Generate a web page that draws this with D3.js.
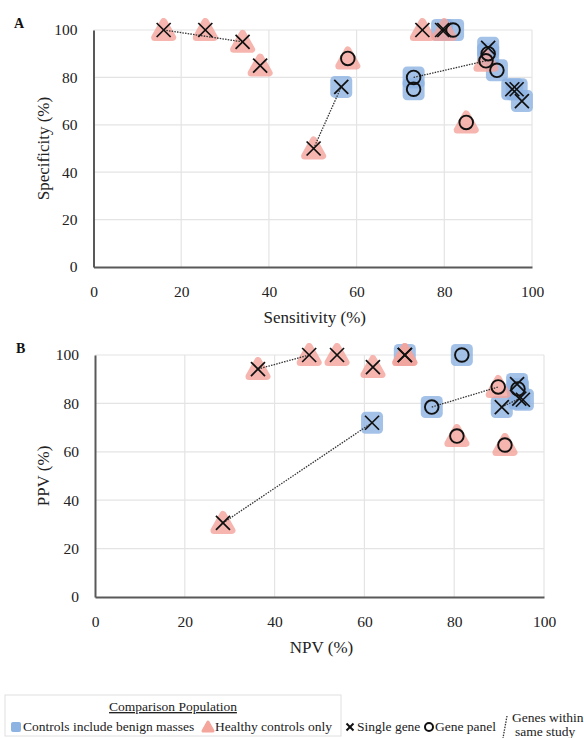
<!DOCTYPE html>
<html>
<head>
<meta charset="utf-8">
<script src="https://cdn.jsdelivr.net/npm/d3@7"></script>
<style>
  body { margin: 0; background: #fff; }
  svg { font-family: "Liberation Serif", "DejaVu Serif", serif; }
</style>
</head>
<body>
<script>
// ticks shared by both panels
const ticks = [0, 20, 40, 60, 80, 100];

// Panel A: [sensitivity, specificity]
const aHealthySingle = [[16, 100], [25.5, 100], [34, 95], [38, 85], [50.2, 50], [75, 100], [80, 100]];
const aBenignSingle = [[56.5, 76], [79.5, 100], [90, 92.5], [95.5, 75], [96.5, 75], [97.7, 70]];
const aHealthyPanel = [[58, 88], [89.5, 87], [85, 61]];
const aBenignPanel = [[82, 100], [73, 80], [73, 75], [90, 90], [92, 83]];
const aLinks = [
  [[16, 100], [34, 95]],
  [[50.2, 50], [56.5, 76]],
  [[73, 80], [89.5, 87]]
];

// Panel B: [NPV, PPV]
const bHealthySingle = [[36.3, 94.2], [28.5, 30.6], [47.7, 100], [53.9, 100], [61.9, 95], [69, 100], [69, 100]];
const bBenignSingle = [[61.7, 72], [69, 100], [90.6, 78.5], [94, 88], [94.5, 82], [95.3, 81.5]];
const bHealthyPanel = [[89.8, 86.8], [80.6, 66.5], [91.3, 62.8]];
const bBenignPanel = [[81.7, 100], [75, 78.5], [94.2, 86]];
const bLinks = [
  [[36.3, 94.2], [47.7, 100]],
  [[28.5, 30.6], [61.7, 72]],
  [[75, 78.5], [89.8, 86.8]],
  [[90.6, 78.5], [94.5, 82]]
];

const width = 584, height = 738;
const blue = '#8db3e2', pink = '#f4a59c';

const svg = d3.select('body').append('svg')
  .attr('width', width)
  .attr('height', height);

function drawPanel(p) {
  const x = d3.scaleLinear().domain([0, 100]).range([p.left, p.right]);
  const y = d3.scaleLinear().domain([0, 100]).range([p.bottom, p.top]);
  const g = svg.append('g');

  // grid
  g.selectAll('.vg').data(ticks.slice(1)).enter().append('line')
    .attr('x1', d => x(d)).attr('x2', d => x(d))
    .attr('y1', p.top).attr('y2', p.bottom)
    .attr('stroke', '#e4e4e4').attr('stroke-width', 1.2);
  g.selectAll('.hg').data(ticks.slice(1)).enter().append('line')
    .attr('x1', p.left).attr('x2', p.right)
    .attr('y1', d => y(d)).attr('y2', d => y(d))
    .attr('stroke', '#e4e4e4').attr('stroke-width', 1.2);

  // axes
  const xa = g.append('g').attr('transform', `translate(0,${p.bottom})`)
    .call(d3.axisBottom(x).tickValues(ticks).tickSize(0).tickPadding(19));
  const ya = g.append('g').attr('transform', `translate(${p.left},0)`)
    .call(d3.axisLeft(y).tickValues(ticks).tickSize(0).tickPadding(16));
  [xa, ya].forEach(a => {
    a.select('.domain').attr('stroke', '#595959').attr('stroke-width', 2);
    a.selectAll('text').attr('font-size', 15.5).attr('fill', '#222')
      .attr('font-family', '"Liberation Serif", serif');
  });

  // titles
  g.append('text').attr('x', (p.left + p.right) / 2 + 2).attr('y', p.xTitleY)
    .attr('text-anchor', 'middle').attr('font-size', 17).attr('fill', '#222')
    .text(p.xTitle);
  g.append('text')
    .attr('transform', `translate(43,${(p.top + p.bottom) / 2}) rotate(-90)`)
    .attr('text-anchor', 'middle').attr('dy', '0.35em')
    .attr('font-size', 17).attr('fill', '#222').text(p.yTitle);
  g.append('text').attr('x', p.letterX).attr('y', p.top - 2)
    .attr('font-size', 14).attr('font-weight', 'bold').attr('fill', '#111')
    .text(p.letter);

  // backgrounds
  const benign = p.benignSingle.concat(p.benignPanel);
  const healthy = p.healthySingle.concat(p.healthyPanel);
  g.selectAll('.bsq').data(benign).enter().append('rect')
    .attr('x', d => x(d[0]) - 11).attr('y', d => y(d[1]) - 11)
    .attr('width', 22).attr('height', 22).attr('rx', 4.5)
    .attr('fill', blue).attr('opacity', 0.8);
  g.selectAll('.htri').data(healthy).enter().append('path')
    .attr('transform', d => `translate(${x(d[0])},${y(d[1])})`)
    .attr('d', 'M0,-8.5 L9,7.5 L-9,7.5 Z')
    .attr('fill', pink).attr('stroke', pink)
    .attr('stroke-width', 7).attr('stroke-linejoin', 'round')
    .attr('opacity', 0.8);

  // study links
  const line = d3.line().x(d => x(d[0])).y(d => y(d[1]));
  g.selectAll('.link').data(p.links).enter().append('path')
    .attr('d', line).attr('fill', 'none')
    .attr('stroke', '#333').attr('stroke-width', 1.3)
    .attr('stroke-dasharray', '1.5,1.2');

  // glyphs
  const singles = p.benignSingle.concat(p.healthySingle);
  const panels = p.benignPanel.concat(p.healthyPanel);
  const xs = g.selectAll('.xg').data(singles).enter().append('g')
    .attr('transform', d => `translate(${x(d[0])},${y(d[1])})`);
  xs.append('line').attr('x1', -7).attr('y1', -7).attr('x2', 7).attr('y2', 7);
  xs.append('line').attr('x1', -7).attr('y1', 7).attr('x2', 7).attr('y2', -7);
  xs.selectAll('line').attr('stroke', '#111').attr('stroke-width', 1.7);
  g.selectAll('.og').data(panels).enter().append('circle')
    .attr('cx', d => x(d[0])).attr('cy', d => y(d[1])).attr('r', 6.8)
    .attr('fill', 'none').attr('stroke', '#111').attr('stroke-width', 1.9);
}

drawPanel({
  left: 93.5, right: 532, top: 30, bottom: 267,
  xTitle: 'Sensitivity (%)', yTitle: 'Specificity (%)', xTitleY: 323,
  letter: 'A', letterX: 14,
  healthySingle: aHealthySingle, benignSingle: aBenignSingle,
  healthyPanel: aHealthyPanel, benignPanel: aBenignPanel, links: aLinks
});

drawPanel({
  left: 95, right: 544, top: 355, bottom: 597,
  xTitle: 'NPV (%)', yTitle: 'PPV (%)', xTitleY: 653,
  letter: 'B', letterX: 16,
  healthySingle: bHealthySingle, benignSingle: bBenignSingle,
  healthyPanel: bHealthyPanel, benignPanel: bBenignPanel, links: bLinks
});

// legend
const lg = svg.append('g').attr('font-size', 13.5).attr('fill', '#222');
lg.append('rect').attr('x', 5).attr('y', 695).attr('width', 336).attr('height', 41)
  .attr('fill', '#fff').attr('stroke', '#e0e0e0');
lg.append('text').attr('x', 173).attr('y', 711).attr('text-anchor', 'middle')
  .attr('text-decoration', 'underline').text('Comparison Population');
lg.append('rect').attr('x', 11).attr('y', 722).attr('width', 10).attr('height', 10)
  .attr('rx', 2).attr('fill', blue);
lg.append('text').attr('x', 23).attr('y', 731).text('Controls include benign masses');
lg.append('path').attr('transform', 'translate(208,727)')
  .attr('d', 'M0,-5 L5,4 L-5,4 Z').attr('fill', pink).attr('stroke', pink)
  .attr('stroke-width', 3).attr('stroke-linejoin', 'round');
lg.append('text').attr('x', 215).attr('y', 731).text('Healthy controls only');

const lx = lg.append('g').attr('transform', 'translate(350,727)');
lx.append('line').attr('x1', -3.5).attr('y1', -3.5).attr('x2', 3.5).attr('y2', 3.5);
lx.append('line').attr('x1', -3.5).attr('y1', 3.5).attr('x2', 3.5).attr('y2', -3.5);
lx.selectAll('line').attr('stroke', '#111').attr('stroke-width', 2);
lg.append('text').attr('x', 357).attr('y', 731).text('Single gene');
lg.append('circle').attr('cx', 429).attr('cy', 727).attr('r', 4)
  .attr('fill', 'none').attr('stroke', '#111').attr('stroke-width', 2);
lg.append('text').attr('x', 435).attr('y', 731).text('Gene panel');
lg.append('line').attr('x1', 507).attr('y1', 716).attr('x2', 503).attr('y2', 738)
  .attr('stroke', '#333').attr('stroke-width', 1.3).attr('stroke-dasharray', '1.5,1.2');
lg.append('text').attr('x', 512).attr('y', 722).text('Genes within');
lg.append('text').attr('x', 515).attr('y', 736).text('same study');
</script>
</body>
</html>
